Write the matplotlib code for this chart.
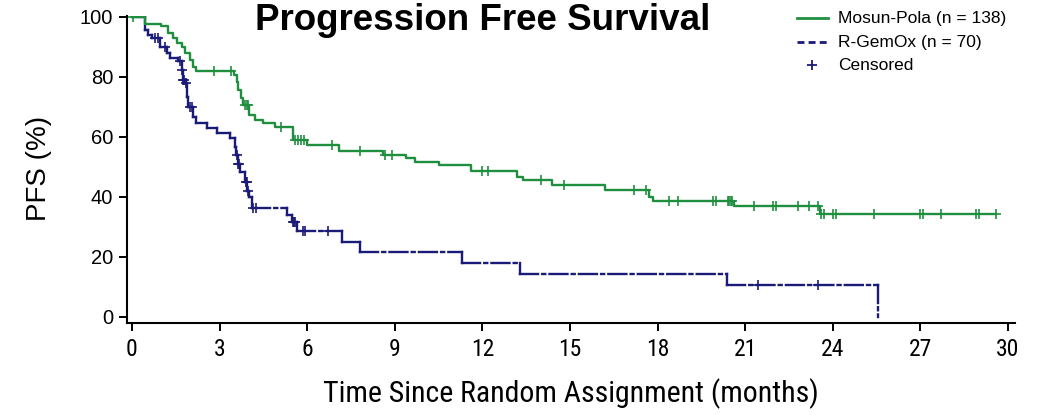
import numpy as np
import matplotlib
matplotlib.use("Agg")
import matplotlib.pyplot as plt
from matplotlib.collections import LineCollection
from matplotlib.lines import Line2D
from matplotlib.font_manager import FontProperties

plt.rcParams["lines.scale_dashes"] = False

# ---- Kaplan-Meier step data (months, % progression free) ----
pola_time = [0, 0.45, 1.0, 1.25, 1.4, 1.53, 1.7, 1.82, 1.99, 2.1, 2.2, 3.5, 3.6,
             3.64, 3.75, 3.8, 4.0, 4.2, 4.5, 4.9, 5.5, 6.0, 7.1, 8.6, 9.4, 9.7,
             10.5, 11.6, 13.2, 13.4, 14.4, 16.2, 17.7, 17.85, 20.6, 23.55, 29.6]
pola_surv = [100, 97.7, 97.0, 94.8, 92.9, 91.2, 89.9, 87.9, 85.7, 83.4, 82.1, 80.7,
             78.4, 75.7, 72.9, 70.7, 67.3, 65.7, 64.8, 63.4, 59.0, 57.3, 55.4, 54.0,
             52.9, 51.8, 50.7, 48.8, 46.8, 45.7, 44.0, 42.4, 40.1, 38.8, 37.1, 34.2,
             34.2]
pola_censor = [0.05, 2.8, 3.4, 3.88, 3.93, 3.97, 5.1, 5.6, 5.7, 5.8, 5.9, 6.85, 7.8,
               8.65, 8.9, 12.0, 12.2, 14.0, 14.8, 17.2, 17.6, 18.4, 18.7, 19.9, 20.0,
               20.4, 20.45, 20.5, 20.55, 21.3, 21.95, 22.05, 22.8, 23.2, 23.5, 23.6,
               23.7, 24.0, 24.1, 25.4, 27.0, 27.1, 27.7, 28.9, 29.0, 29.6]

gemox_time = [0, 0.45, 0.55, 0.67, 0.96, 1.19, 1.3, 1.59, 1.7, 1.75, 1.8, 1.87, 1.93,
              2.1, 2.2, 2.56, 2.9, 3.36, 3.53, 3.56, 3.62, 3.7, 3.87, 3.95, 4.0, 4.1,
              5.3, 5.47, 5.64, 7.18, 7.8, 11.29, 13.29, 20.37, 25.56]
gemox_surv = [100, 95.7, 94.0, 92.9, 90.1, 87.9, 86.2, 85.4, 82.3, 79.0, 77.9, 73.4,
              70.1, 66.8, 64.6, 62.9, 61.2, 59.6, 56.8, 54.0, 51.0, 48.4, 45.1, 42.0,
              40.1, 36.2, 34.0, 31.8, 28.7, 25.1, 21.5, 18.1, 14.4, 10.8, 0]
gemox_censor = [0.79, 0.89, 1.13, 1.64, 1.73, 1.76, 1.79, 1.85, 1.98, 2.04, 3.58,
                3.63, 3.66, 3.9, 3.93, 3.97, 4.15, 4.26, 5.5, 5.55, 5.6, 5.87, 5.92,
                6.72, 21.45, 23.5]

x_ticks = [0, 3, 6, 9, 12, 15, 18, 21, 24, 27, 30]
y_ticks = [0, 20, 40, 60, 80, 100]
arm_labels = ["Mosun-Pola (n = 138)", "R-GemOx (n = 70)", "Censored"]

GREEN = "#1f8f3f"
NAVY = "#1a1a78"
SANS = ["Liberation Sans", "DejaVu Sans"]
NARROW = "Roboto Condensed"


def step_level(times, surv, t):
    idx = np.searchsorted(np.asarray(times), np.asarray(t), side="right") - 1
    return np.asarray(surv)[idx]


def step_segments(times, surv):
    segs = []
    for i in range(len(times) - 1):
        segs.append([(times[i], surv[i]), (times[i + 1], surv[i])])
        if surv[i + 1] != surv[i]:
            segs.append([(times[i + 1], surv[i]), (times[i + 1], surv[i + 1])])
    return segs


fig = plt.figure(figsize=(10.45, 4.15), dpi=100)
ax = fig.add_axes([0.1215, 0.2217, 0.8498, 0.7398])

# Mosun-Pola: solid step curve
ax.step(pola_time, pola_surv, where="post", color=GREEN, lw=1.7, zorder=3)
ax.plot(pola_censor, step_level(pola_time, pola_surv, pola_censor), "+",
        color=GREEN, ms=6.5, mew=1.2, zorder=4)

# R-GemOx: dash-dot step curve, pattern restarting on each segment
gemox_lc = LineCollection(step_segments(gemox_time, gemox_surv), colors=NAVY,
                          linewidths=1.7, linestyles=[(0, (13, 3, 2.2, 3))],
                          capstyle="projecting", zorder=2)
ax.add_collection(gemox_lc)
ax.plot(gemox_censor, step_level(gemox_time, gemox_surv, gemox_censor), "+",
        color=NAVY, ms=6.5, mew=1.2, zorder=4)

ax.set_xlim(-0.171, 30.24)
ax.set_ylim(-2, 100.33)
ax.set_xticks(x_ticks)
ax.set_yticks(y_ticks)
for side in ("top", "right"):
    ax.spines[side].set_visible(False)
for side in ("left", "bottom"):
    ax.spines[side].set_linewidth(1.5)
ax.tick_params(axis="both", direction="out", width=1.4, colors="black")
ax.tick_params(axis="x", length=6, pad=5)
ax.tick_params(axis="y", length=6, pad=4)
for lbl in ax.get_xticklabels():
    lbl.set_fontproperties(FontProperties(family=NARROW, size=17))
for lbl in ax.get_yticklabels():
    lbl.set_fontfamily(SANS)
    lbl.set_fontsize(14.5)

ax.set_xlabel("Time Since Random Assignment (months)", family=NARROW, fontsize=21.5)
ax.xaxis.set_label_coords(0.5, -0.18)
ax.set_ylabel("PFS (%)", family=SANS, fontsize=20)
ax.yaxis.set_label_coords(-0.084, 0.505)

fig.text(483 / 1045, 1 - 21 / 415, "Progression Free Survival", family=SANS,
         fontsize=26.5, fontweight="bold", ha="center", va="center")


# Legend drawn in figure pixel coordinates
def fx(px):
    return px / 1045


def fy(py):
    return 1 - py / 415


rows = [18, 42, 65]
fig.add_artist(Line2D([fx(797), fx(828)], [fy(rows[0])] * 2, color=GREEN, lw=2))
fig.add_artist(Line2D([fx(797), fx(828)], [fy(rows[1])] * 2, color=NAVY, lw=2,
                      linestyle=(0, (5, 3))))
fig.add_artist(Line2D([fx(812)], [fy(rows[2])], marker="+", color=NAVY, ms=7, mew=1.3,
                      linestyle="none"))
for r, txt in zip(rows, arm_labels):
    fig.text(fx(838), fy(r), txt, family=SANS, fontsize=12.5, ha="left",
             va="center")

fig.savefig("out.png", dpi=100)
